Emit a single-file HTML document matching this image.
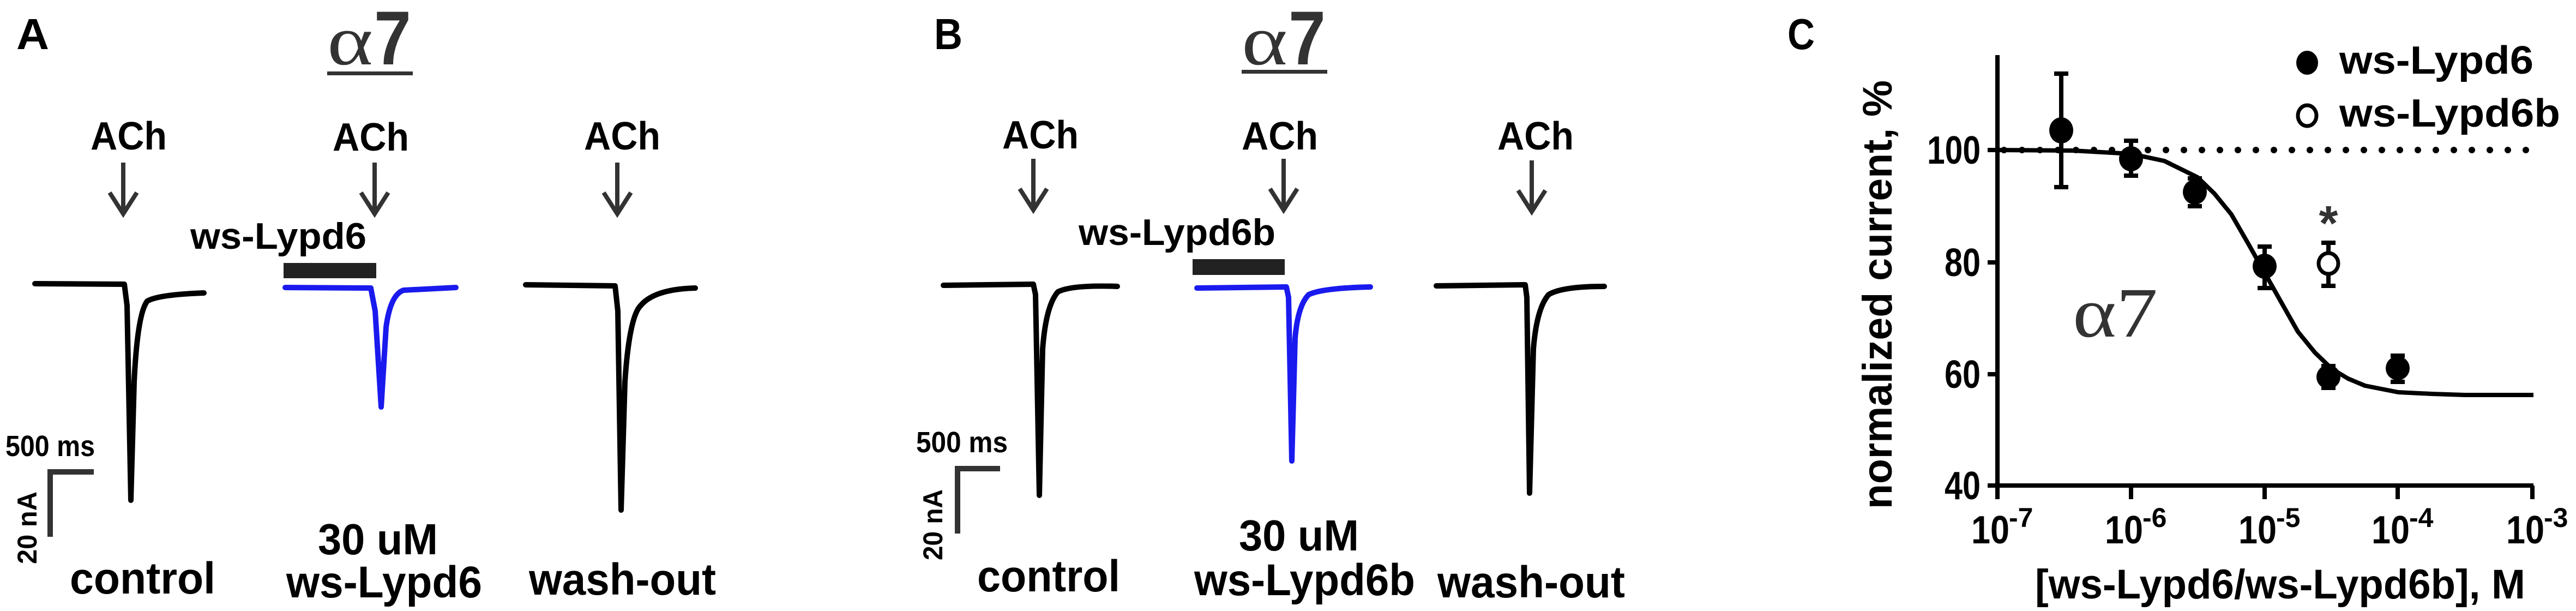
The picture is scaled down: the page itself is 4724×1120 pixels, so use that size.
<!DOCTYPE html>
<html><head><meta charset="utf-8"><style>
html,body{margin:0;padding:0;background:#fff;}
svg{display:block;}
text{font-family:"Liberation Sans Narrow","Liberation Sans",sans-serif;font-weight:bold;fill:#000;}
.ser{font-family:"Liberation Serif",serif;font-weight:normal;fill:#333;}
</style></head><body>
<svg width="4724" height="1120" viewBox="0 0 4724 1120" xmlns="http://www.w3.org/2000/svg">
<defs>
<g id="arr"><path d="M0,0 V92 M-25,55 L0,94 L25,55" fill="none" stroke="#333" stroke-width="8"/></g>
</defs>
<!-- Panel A -->
<text x="30" y="90" font-size="80" textLength="60" lengthAdjust="spacingAndGlyphs">A</text>
<text x="600" y="118" class="ser" font-size="130" textLength="84" lengthAdjust="spacingAndGlyphs">α</text>
<text x="686" y="118" font-size="140" style="fill:#333" textLength="68" lengthAdjust="spacingAndGlyphs">7</text>
<rect x="600" y="131" width="157" height="7" fill="#333"/>
<text x="166" y="274" font-size="72" textLength="140" lengthAdjust="spacingAndGlyphs">ACh</text>
<text x="610" y="276" font-size="72" textLength="140" lengthAdjust="spacingAndGlyphs">ACh</text>
<text x="1071" y="274" font-size="72" textLength="140" lengthAdjust="spacingAndGlyphs">ACh</text>
<use href="#arr" x="226" y="298"/>
<use href="#arr" x="687" y="298"/>
<use href="#arr" x="1132" y="298"/>
<text x="349" y="456" font-size="68" textLength="323" lengthAdjust="spacingAndGlyphs">ws-Lypd6</text>
<rect x="520" y="482" width="170" height="28" fill="#222"/>
<g fill="none" stroke-width="10" stroke-linecap="round" stroke-linejoin="round">
<path stroke="#000" d="M64,520 L228,521 L233,560 L240,917 L246,700 Q252,575 270,552 Q290,540 374,537"/>
<path stroke="#1a1aee" d="M523,527 L680,528 L688,570 L699,746 L708,600 Q716,540 740,532 L836,527"/>
<path stroke="#000" d="M964,522 L1128,524 L1133,570 L1139,935 L1146,700 Q1154,580 1175,560 Q1200,530 1275,528"/>
</g>
<text x="10" y="836" font-size="54" textLength="164" lengthAdjust="spacingAndGlyphs">500 ms</text>
<path d="M92,984 V865 H172" fill="none" stroke="#333" stroke-width="10"/>
<text transform="translate(67,1034) rotate(-90)" font-size="50" textLength="133" lengthAdjust="spacingAndGlyphs">20 nA</text>
<text x="128" y="1088" font-size="82" textLength="267" lengthAdjust="spacingAndGlyphs">control</text>
<text x="583" y="1016" font-size="80" textLength="220" lengthAdjust="spacingAndGlyphs">30 uM</text>
<text x="525" y="1095" font-size="82" textLength="359" lengthAdjust="spacingAndGlyphs">ws-Lypd6</text>
<text x="970" y="1090" font-size="82" textLength="343" lengthAdjust="spacingAndGlyphs">wash-out</text>

<!-- Panel B -->
<text x="1713" y="90" font-size="80" textLength="52" lengthAdjust="spacingAndGlyphs">B</text>
<text x="2277" y="118" class="ser" font-size="130" textLength="84" lengthAdjust="spacingAndGlyphs">α</text>
<text x="2363" y="118" font-size="140" style="fill:#333" textLength="68" lengthAdjust="spacingAndGlyphs">7</text>
<rect x="2277" y="128" width="157" height="7" fill="#333"/>
<text x="1838" y="272" font-size="72" textLength="140" lengthAdjust="spacingAndGlyphs">ACh</text>
<text x="2277" y="274" font-size="72" textLength="140" lengthAdjust="spacingAndGlyphs">ACh</text>
<text x="2746" y="274" font-size="72" textLength="140" lengthAdjust="spacingAndGlyphs">ACh</text>
<use href="#arr" x="1895" y="291"/>
<use href="#arr" x="2354" y="291"/>
<use href="#arr" x="2809" y="294"/>
<text x="1978" y="449" font-size="68" textLength="361" lengthAdjust="spacingAndGlyphs">ws-Lypd6b</text>
<rect x="2187" y="475" width="169" height="29" fill="#222"/>
<g fill="none" stroke-width="10" stroke-linecap="round" stroke-linejoin="round">
<path stroke="#000" d="M1730,523 L1895,521 L1899,540 L1906,908 L1912,640 Q1918,560 1940,535 Q1965,522 2049,525"/>
<path stroke="#1a1aee" d="M2195,528 L2359,526 L2363,545 L2369,845 L2375,620 Q2380,560 2400,540 Q2425,528 2513,526"/>
<path stroke="#000" d="M2634,524 L2797,522 L2800,545 L2805,904 L2812,640 Q2818,565 2840,540 Q2865,525 2942,525"/>
</g>
<text x="1680" y="829" font-size="54" textLength="168" lengthAdjust="spacingAndGlyphs">500 ms</text>
<path d="M1756,978 V859 H1834" fill="none" stroke="#333" stroke-width="10"/>
<text transform="translate(1728,1027) rotate(-90)" font-size="50" textLength="130" lengthAdjust="spacingAndGlyphs">20 nA</text>
<text x="1792" y="1084" font-size="82" textLength="262" lengthAdjust="spacingAndGlyphs">control</text>
<text x="2272" y="1009" font-size="80" textLength="220" lengthAdjust="spacingAndGlyphs">30 uM</text>
<text x="2190" y="1091" font-size="82" textLength="405" lengthAdjust="spacingAndGlyphs">ws-Lypd6b</text>
<text x="2636" y="1095" font-size="82" textLength="344" lengthAdjust="spacingAndGlyphs">wash-out</text>

<!-- Panel C -->
<text x="3278" y="90" font-size="80" textLength="50" lengthAdjust="spacingAndGlyphs">C</text>
<g stroke="#000" stroke-width="8" fill="none">
<path d="M3663,101 V890 H4646"/>
<path d="M3645,275 H3663 M3645,481 H3663 M3645,686 H3663 M3645,890 H3663"/>
<path d="M3663,890 V915 M3908,890 V915 M4153,890 V915 M4397,890 V915 M4644,890 V915"/>
</g>
<path d="M3675,275 H4646" stroke="#000" stroke-width="12" stroke-dasharray="0 33" stroke-linecap="round" fill="none"/>
<g font-size="72" text-anchor="end">
<text x="3632" y="300" textLength="98" lengthAdjust="spacingAndGlyphs">100</text>
<text x="3632" y="506" textLength="66" lengthAdjust="spacingAndGlyphs">80</text>
<text x="3632" y="711" textLength="66" lengthAdjust="spacingAndGlyphs">60</text>
<text x="3632" y="915" textLength="66" lengthAdjust="spacingAndGlyphs">40</text>
</g>
<g font-size="72">
<text x="3615" y="996" textLength="70" lengthAdjust="spacingAndGlyphs">10</text><text x="3684" y="966" font-size="50">-7</text>
<text x="3860" y="996" textLength="70" lengthAdjust="spacingAndGlyphs">10</text><text x="3929" y="966" font-size="50">-6</text>
<text x="4105" y="996" textLength="70" lengthAdjust="spacingAndGlyphs">10</text><text x="4174" y="966" font-size="50">-5</text>
<text x="4349" y="996" textLength="70" lengthAdjust="spacingAndGlyphs">10</text><text x="4418" y="966" font-size="50">-4</text>
<text x="4596" y="996" textLength="70" lengthAdjust="spacingAndGlyphs">10</text><text x="4665" y="966" font-size="50">-3</text>
</g>
<text x="3732" y="1097" font-size="76" textLength="899" lengthAdjust="spacingAndGlyphs">[ws-Lypd6/ws-Lypd6b], M</text>
<text transform="translate(3469,933) rotate(-90)" font-size="76" textLength="786" lengthAdjust="spacingAndGlyphs">normalized current, %</text>
<path d="M3663,275 L3800,276 L3908,282 L3969,295 L4030,325 L4061,355 L4092,393 L4122,445 L4153,500 L4184,555 L4214,608 L4245,646 L4276,676 L4306,694 L4337,707 L4398,719 L4460,722 L4520,724 L4646,724" fill="none" stroke="#000" stroke-width="8" stroke-linejoin="round"/>
<g stroke="#000" stroke-width="8">
<path d="M3780,135 V343 M3767,135 H3793 M3767,343 H3793"/>
<path d="M3908,258 V322 M3895,258 H3921 M3895,322 H3921"/>
<path d="M4025,327 V378 M4012,327 H4038 M4012,378 H4038"/>
<path d="M4153,452 V528 M4140,452 H4166 M4140,528 H4166"/>
<path d="M4270,671 V711 M4257,671 H4283 M4257,711 H4283"/>
<path d="M4397,652 V700 M4384,652 H4410 M4384,700 H4410"/>
<path d="M4270,445 V524 M4257,445 H4283 M4257,524 H4283"/>
</g>
<g fill="#000">
<ellipse cx="3780" cy="239" rx="22" ry="24"/>
<ellipse cx="3908" cy="291" rx="22" ry="23"/>
<ellipse cx="4025" cy="352" rx="22" ry="23"/>
<ellipse cx="4153" cy="488" rx="22" ry="23"/>
<ellipse cx="4270" cy="691" rx="22" ry="22"/>
<ellipse cx="4397" cy="675" rx="22" ry="22"/>
</g>
<ellipse cx="4270" cy="483" rx="18" ry="19" fill="#fff" stroke="#000" stroke-width="7"/>
<text x="4270" y="440" font-size="90" text-anchor="middle" style="fill:#333">*</text>
<text class="ser" x="3801" y="617" font-size="130" textLength="156" lengthAdjust="spacingAndGlyphs">α7</text>
<ellipse cx="4231" cy="115" rx="20" ry="22" fill="#000"/>
<text x="4290" y="135" font-size="72" textLength="356" lengthAdjust="spacingAndGlyphs">ws-Lypd6</text>
<ellipse cx="4231" cy="212" rx="17" ry="19" fill="#fff" stroke="#000" stroke-width="7"/>
<text x="4290" y="232" font-size="72" textLength="405" lengthAdjust="spacingAndGlyphs">ws-Lypd6b</text>
</svg>
</body></html>
